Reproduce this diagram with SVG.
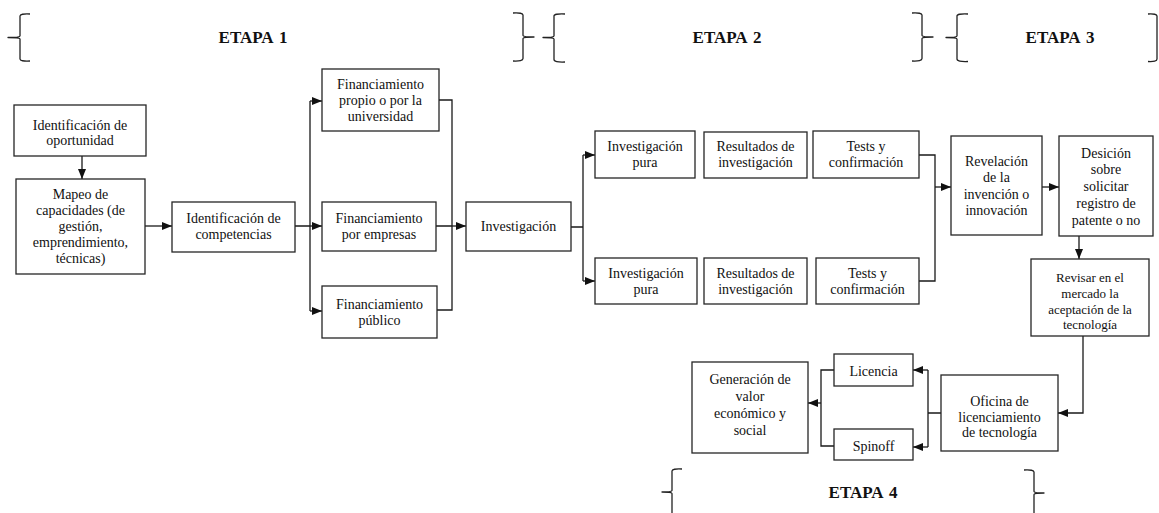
<svg xmlns="http://www.w3.org/2000/svg" width="1159" height="513" viewBox="0 0 1159 513">
<style>
  .box { fill: #fff; stroke: #262626; stroke-width: 1.3; }
  .t { font-family: "Liberation Serif", "Times New Roman", serif; font-size: 14px; fill: #111; text-anchor: middle; }
  .ts { font-size: 13px; }
  .h { font-family: "Liberation Serif", "Times New Roman", serif; font-size: 17px; font-weight: bold; fill: #111; text-anchor: middle; word-spacing: 2px; }
  .c { fill: none; stroke: #1a1a1a; stroke-width: 1.3; }
  .a { fill: none; stroke: #1a1a1a; stroke-width: 1.3; marker-end: url(#arr); }
  .br { fill: none; stroke: #222; stroke-width: 1.3; stroke-linejoin: round; }
</style>
<defs>
  <marker id="arr" markerUnits="userSpaceOnUse" markerWidth="10" markerHeight="10" viewBox="0 0 10 10" refX="10" refY="5" orient="auto">
    <path d="M0,1 L10,5 L0,9 Z" fill="#111"/>
  </marker>
</defs>
<rect width="1159" height="513" fill="#fff"/>

<g id="braces">
  <path class="br" d="M30,14 Q20,13.5 20,16 L20,36 Q20,37.5 8,37.5 Q20,37.5 20,39 L20,59 Q20,61.5 30,61"/>
  <path class="br" d="M513,13 Q523,12.5 523,15 L523,35.5 Q523,37 534,37 Q523,37 523,38.5 L523,58.5 Q523,61.5 513,61"/>
  <path class="br" d="M565,14 Q554,13.5 554,16 L554,36 Q554,37.5 543,37.5 Q554,37.5 554,39 L554,59.5 Q554,62.5 565,62"/>
  <path class="br" d="M912,13 Q922,12.5 922,15 L922,35.5 Q922,37 933,37 Q922,37 922,38.5 L922,58.5 Q922,61.5 912,61"/>
  <path class="br" d="M968,14 Q957,13.5 957,16 L957,36 Q957,37.5 946,37.5 Q957,37.5 957,39 L957,59 Q957,62 968,61.5"/>
  <path class="br" d="M1148,14 Q1157,13.5 1157,16 L1157,59 Q1157,62 1148,61.5"/>
  <path class="br" d="M682,469 Q672,468.5 672,471 L672,490.5 Q672,492 662,492 Q672,492 672,493.5 L672,520"/>
  <path class="br" d="M1024,470 Q1034,469.5 1034,472 L1034,491.5 Q1034,493 1044,493 Q1034,493 1034,494.5 L1034,520"/>
</g>
<g id="etapas">
  <text class="h" x="253" y="43">ETAPA 1</text>
  <text class="h" x="727" y="43">ETAPA 2</text>
  <text class="h" x="1060" y="43">ETAPA 3</text>
  <text class="h" x="863" y="498">ETAPA 4</text>
</g>

<g id="connectors">
  <line class="a" x1="82" y1="156" x2="82" y2="179"/>
  <line class="a" x1="145" y1="226" x2="172" y2="226"/>
  <path class="c" d="M295,226 L310,226 M310,101 L310,311"/>
  <line class="a" x1="310" y1="101" x2="322" y2="101"/>
  <line class="a" x1="310" y1="226" x2="322" y2="226"/>
  <line class="a" x1="310" y1="311" x2="322" y2="311"/>
  <path class="c" d="M439,100 L452,100 L452,310 L437,310 M436,226 L452,226"/>
  <line class="a" x1="452" y1="226" x2="466" y2="226"/>
  <path class="c" d="M571,227 L583,227 M583,155 L583,281"/>
  <line class="a" x1="583" y1="155" x2="595" y2="155"/>
  <line class="a" x1="583" y1="281" x2="595" y2="281"/>
  <path class="c" d="M919,155 L935,155 L935,281 L919,281"/>
  <line class="a" x1="935" y1="187" x2="951" y2="187"/>
  <line class="a" x1="1042" y1="187" x2="1059" y2="187"/>
  <line class="a" x1="1079" y1="236" x2="1079" y2="259"/>
  <polyline class="a" points="1083,336 1083,413 1058,413"/>
  <path class="c" d="M941,413 L928,413 M928,370 L928,447"/>
  <line class="a" x1="928" y1="370" x2="913" y2="370"/>
  <line class="a" x1="928" y1="447" x2="913" y2="447"/>
  <path class="c" d="M834,370 L821,370 L821,446 L834,446"/>
  <line class="a" x1="821" y1="403" x2="808" y2="403"/>
</g>

<g id="n-oportunidad">
  <rect class="box" x="14" y="105" width="132" height="51"/>
  <text class="t" x="80" y="130">Identificación de</text>
  <text class="t" x="80" y="145">oportunidad</text>
</g>
<g id="n-mapeo">
  <rect class="box" x="16" y="179" width="129" height="95"/>
  <text class="t" x="80.5" y="199">Mapeo de</text>
  <text class="t" x="80.5" y="215">capacidades (de</text>
  <text class="t" x="80.5" y="231">gestión,</text>
  <text class="t" x="80.5" y="247">emprendimiento,</text>
  <text class="t" x="80.5" y="263">técnicas)</text>
</g>
<g id="n-competencias">
  <rect class="box" x="172" y="202" width="123" height="50"/>
  <text class="t" x="233.5" y="223">Identificación de</text>
  <text class="t" x="233.5" y="239">competencias</text>
</g>
<g id="n-fin-propio">
  <rect class="box" x="322" y="69" width="117" height="62"/>
  <text class="t" x="380.5" y="89">Financiamiento</text>
  <text class="t" x="380.5" y="105">propio o por la</text>
  <text class="t" x="380.5" y="121">universidad</text>
</g>
<g id="n-fin-empresas">
  <rect class="box" x="322" y="202" width="114" height="49"/>
  <text class="t" x="379" y="223">Financiamiento</text>
  <text class="t" x="379" y="239">por empresas</text>
</g>
<g id="n-fin-publico">
  <rect class="box" x="322" y="286" width="115" height="52"/>
  <text class="t" x="379.5" y="309">Financiamiento</text>
  <text class="t" x="379.5" y="325">público</text>
</g>
<g id="n-investigacion">
  <rect class="box" x="466" y="202" width="105" height="49"/>
  <text class="t" x="518.5" y="231">Investigación</text>
</g>
<g id="n-inv-pura-1">
  <rect class="box" x="595" y="131" width="100" height="47"/>
  <text class="t" x="645" y="151">Investigación</text>
  <text class="t" x="645" y="167">pura</text>
</g>
<g id="n-resultados-1">
  <rect class="box" x="704" y="132" width="103" height="46"/>
  <text class="t" x="755.5" y="151">Resultados de</text>
  <text class="t" x="755.5" y="167">investigación</text>
</g>
<g id="n-tests-1">
  <rect class="box" x="813" y="131" width="106" height="47"/>
  <text class="t" x="866" y="151">Tests y</text>
  <text class="t" x="866" y="167">confirmación</text>
</g>
<g id="n-inv-pura-2">
  <rect class="box" x="595" y="258" width="102" height="46"/>
  <text class="t" x="646" y="278">Investigación</text>
  <text class="t" x="646" y="294">pura</text>
</g>
<g id="n-resultados-2">
  <rect class="box" x="704" y="258" width="103" height="46"/>
  <text class="t" x="755.5" y="278">Resultados de</text>
  <text class="t" x="755.5" y="294">investigación</text>
</g>
<g id="n-tests-2">
  <rect class="box" x="816" y="258" width="103" height="46"/>
  <text class="t" x="867.5" y="278">Tests y</text>
  <text class="t" x="867.5" y="294">confirmación</text>
</g>
<g id="n-revelacion">
  <rect class="box" x="951" y="136" width="91" height="99"/>
  <text class="t" x="996.5" y="166">Revelación</text>
  <text class="t" x="996.5" y="182">de la</text>
  <text class="t" x="996.5" y="199">invención o</text>
  <text class="t" x="996.5" y="215">innovación</text>
</g>
<g id="n-desicion">
  <rect class="box" x="1059" y="136" width="94" height="100"/>
  <text class="t" x="1106" y="157.5">Desición</text>
  <text class="t" x="1106" y="174">sobre</text>
  <text class="t" x="1106" y="191">solicitar</text>
  <text class="t" x="1106" y="208">registro de</text>
  <text class="t" x="1106" y="224.5">patente o no</text>
</g>
<g id="n-revisar">
  <rect class="box" x="1031" y="259" width="118" height="77"/>
  <text class="t ts" x="1090" y="281.5">Revisar en el</text>
  <text class="t ts" x="1090" y="297.5">mercado la</text>
  <text class="t ts" x="1090" y="313.5">aceptación de la</text>
  <text class="t ts" x="1090" y="329">tecnología</text>
</g>
<g id="n-oficina">
  <rect class="box" x="941" y="375" width="117" height="76"/>
  <text class="t" x="999.5" y="406">Oficina de</text>
  <text class="t" x="999.5" y="421.5">licenciamiento</text>
  <text class="t" x="999.5" y="437">de tecnología</text>
</g>
<g id="n-licencia">
  <rect class="box" x="834" y="354" width="79" height="32"/>
  <text class="t" x="873.5" y="375.5">Licencia</text>
</g>
<g id="n-spinoff">
  <rect class="box" x="834" y="429" width="79" height="31"/>
  <text class="t" x="873.5" y="451">Spinoff</text>
</g>
<g id="n-generacion">
  <rect class="box" x="692" y="362" width="116" height="91"/>
  <text class="t" x="750" y="383.5">Generación de</text>
  <text class="t" x="750" y="400.5">valor</text>
  <text class="t" x="750" y="417.5">económico y</text>
  <text class="t" x="750" y="434.5">social</text>
</g>
</svg>
